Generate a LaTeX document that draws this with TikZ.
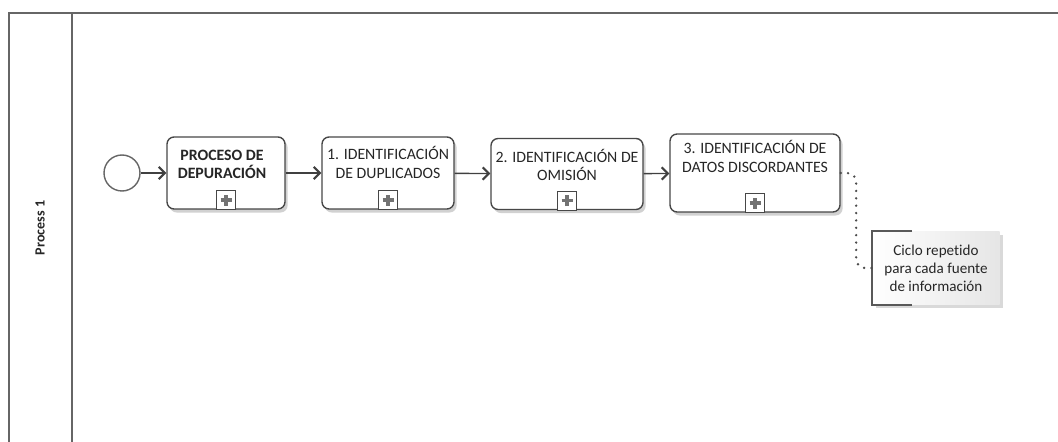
\documentclass[tikz,border=0pt]{standalone}
\usepackage{fontspec}
\setmainfont[Ligatures={NoCommon}]{Carlito}
\usetikzlibrary{arrows.meta,shadows}

\tikzset{
	task/.style={draw=black!72, line width=0.8pt, rounded corners=4pt, fill=white,
		drop shadow={shadow xshift=1.5pt, shadow yshift=-2pt, opacity=0.18, fill=black}},
	tasktext/.style={font=\fontsize{9}{10.5}\selectfont, text=black!85, align=center, inner sep=0pt},
	flow/.style={draw=black!75, line width=0.8pt, -{Straight Barb[length=3.5pt, width=7pt, line width=1.2pt]}},
	assoc/.style={draw=black!70, line width=1.5pt, line cap=round, dash pattern=on 0pt off 4.2pt, rounded corners=5pt},
	lane/.style={draw=black!60, line width=1pt},
}

% collapsed sub-process marker at the bottom of a task
\newcommand\submarker[1]{%
	\draw[black!72, line width=0.7pt, fill=white] ([xshift=-0.19cm]#1.south) rectangle ([xshift=0.19cm, yshift=0.38cm]#1.south);
	\draw[black!55, line width=2pt] ([yshift=0.08cm]#1.south) -- ([yshift=0.3cm]#1.south)
		([xshift=-0.11cm, yshift=0.19cm]#1.south) -- ([xshift=0.11cm, yshift=0.19cm]#1.south);
}

\begin{document}
\begin{tikzpicture}[x=0.02cm, y=-0.02cm]
			%%%%% START %%%%%
			\useasboundingbox (0, 0) rectangle (1058, 442);
			
			% pool and lane
			\draw[lane] (9, 442) -- (9, 13) -- (1058, 13);
			\draw[lane] (72, 13) -- (72, 442);
			\node[rotate=90, font=\bfseries\fontsize{8}{9}\selectfont, text=black!85] (lanelabel) at (40, 228) {Process 1};
			
			% start event
			\node[circle, draw=black!60, line width=0.8pt, fill=white, minimum size=0.72cm, inner sep=0pt] (start) at (122, 173) {};
			
			% tasks
			\node[task, minimum width=2.36cm, minimum height=1.44cm,
				label={[tasktext, font=\bfseries\fontsize{9}{10.5}\selectfont, anchor=north, yshift=-0.26cm, xshift=-0.08cm]north:PROCESO DE\\DEPURACIÓN}] (t1) at (226, 173) {};
			\node[task, minimum width=2.64cm, minimum height=1.44cm,
				label={[tasktext, anchor=north, yshift=-0.2cm]north:1. IDENTIFICACIÓN\\DE DUPLICADOS}] (t2) at (388, 173) {};
			\node[task, minimum width=3.04cm, minimum height=1.42cm,
				label={[tasktext, anchor=north, yshift=-0.22cm]north:2. IDENTIFICACIÓN DE\\OMISIÓN}] (t3) at (567, 174) {};
			\node[task, minimum width=3.4cm, minimum height=1.56cm,
				label={[tasktext, anchor=north, yshift=-0.14cm]north:3. IDENTIFICACIÓN DE\\DATOS DISCORDANTES}] (t4) at (755, 173) {};
			
			\foreach \t in {t1, t2, t3, t4}
				\submarker{\t};
			
			% sequence flows
			\draw[flow] (start) -- (t1);
			\draw[flow] (t1) -- (t2);
			\draw[flow] (t2) -- (t3);
			\draw[flow] (t3) -- (t4);
			
			% annotation
			\node[minimum width=2.54cm, minimum height=1.46cm, left color=white, right color=black!10,
				drop shadow={shadow xshift=2pt, shadow yshift=-2pt, opacity=0.15, fill=black},
				font=\fontsize{8.6}{10.2}\selectfont, text=black!85, align=center] (note) at (936, 268)
				{Ciclo repetido\\para cada fuente\\de información};
			\draw[black!65, line width=0.8pt] ([xshift=0.8cm]note.north west) -- (note.north west)
				-- (note.south west) -- ([xshift=0.8cm]note.south west);
			\draw[assoc] (t4.east) -| ([xshift=-0.32cm]note.west) -- (note.west);
			
			%%%%% END %%%%%
\end{tikzpicture}
\end{document}
